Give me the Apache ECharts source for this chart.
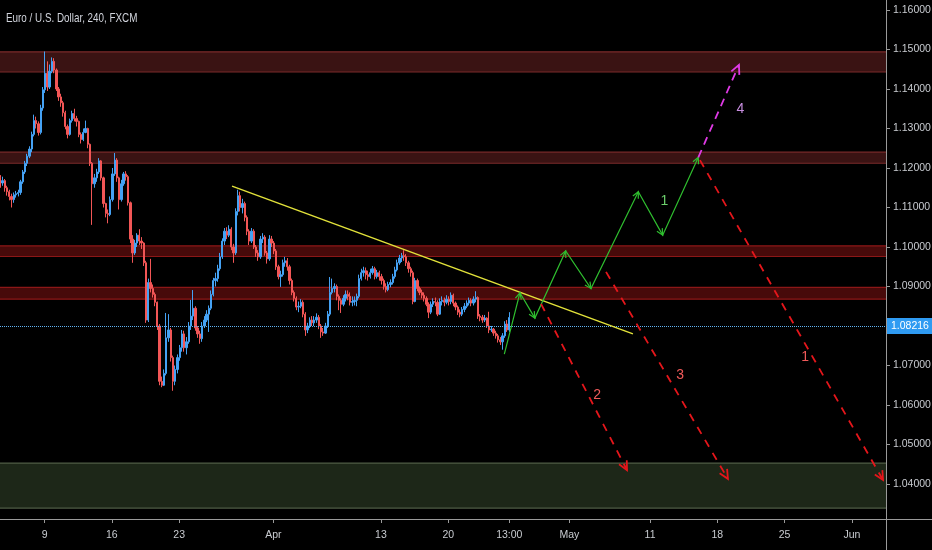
<!DOCTYPE html>
<html><head><meta charset="utf-8">
<script src="https://cdn.jsdelivr.net/npm/echarts@6/dist/echarts.min.js"></script>
<style>html,body{margin:0;padding:0;background:#000;}#c{width:932px;height:550px;}</style>
</head><body><div id="c"></div>
<script>
// ---------------- DATA ----------------
const chartTitle = 'Euro / U.S. Dollar, 240, FXCM';
// time unit: trading days since Mon 9 Mar (weekends removed, 5 days/week)
const lastBarDay = 34 + 13 / 24;   // Fri 24 Apr, 13:00
const barStepDays = 1 / 6;         // 4-hour bars
const firstOpen = 1.1175;
const closes = [
1.1162,1.1168,1.1150,1.1140,1.1128,1.1120,1.1132,1.1135,1.1138,1.1165,
1.1190,1.1212,1.1230,1.1248,1.1285,1.1320,1.1312,1.1290,1.1352,1.1398,
1.1440,1.1405,1.1445,1.1470,1.1448,1.1400,1.1380,1.1365,1.1340,1.1305,
1.1285,1.1320,1.1338,1.1325,1.1318,1.1285,1.1272,1.1290,1.1300,1.1260,
1.1212,1.1160,1.1175,1.1190,1.1218,1.1175,1.1110,1.1085,1.1082,1.1120,
1.1185,1.1220,1.1175,1.1120,1.1160,1.1185,1.1178,1.1112,1.1020,1.0985,
1.1010,1.1030,1.1015,1.1010,1.0960,1.0815,1.0910,1.0895,1.0880,1.0860,
1.0800,1.0660,1.0650,1.0680,1.0770,1.0790,1.0720,1.0660,1.0690,1.0720,
1.0745,1.0780,1.0745,1.0760,1.0800,1.0825,1.0845,1.0795,1.0780,1.0768,
1.0800,1.0815,1.0830,1.0845,1.0880,1.0915,1.0920,1.0945,1.0975,1.1015,
1.1040,1.1030,1.1045,1.1000,1.0985,1.1090,1.1130,1.1100,1.1110,1.1075,
1.1040,1.1015,1.1040,1.1000,1.0985,1.0975,1.1020,1.1025,1.0985,1.0970,
1.1020,1.1010,1.0990,1.0950,1.0925,1.0930,1.0960,1.0965,1.0950,1.0915,
1.0885,1.0870,1.0848,1.0850,1.0860,1.0830,1.0790,1.0800,1.0815,1.0808,
1.0815,1.0822,1.0800,1.0785,1.0782,1.0800,1.0830,1.0885,1.0895,1.0900,
1.0875,1.0865,1.0855,1.0870,1.0880,1.0875,1.0860,1.0862,1.0865,1.0875,
1.0920,1.0935,1.0940,1.0930,1.0925,1.0935,1.0945,1.0925,1.0935,1.0925,
1.0915,1.0900,1.0892,1.0905,1.0910,1.0925,1.0942,1.0960,1.0972,1.0978,
1.0975,1.0960,1.0945,1.0935,1.0862,1.0915,1.0895,1.0885,1.0878,1.0870,
1.0855,1.0835,1.0855,1.0862,1.0860,1.0830,1.0862,1.0865,1.0860,1.0868,
1.0862,1.0878,1.0858,1.0848,1.0835,1.0830,1.0842,1.0850,1.0858,1.0865,
1.0858,1.0868,1.0872,1.0825,1.0822,1.0815,1.0820,1.0800,1.0790,1.0792,
1.0782,1.0775,1.0765,1.0760,1.0775,1.0805,1.0790,1.08216
];
const highs = [
1.1182,1.1178,1.1172,1.1155,1.1145,1.1135,1.1138,1.1142,1.1145,1.1170,
1.1195,1.1218,1.1236,1.1255,1.1292,1.1335,1.1330,1.1318,1.1360,1.1405,
1.1495,1.1470,1.1462,1.1480,1.1478,1.1452,1.1405,1.1388,1.1370,1.1345,
1.1310,1.1325,1.1345,1.1350,1.1332,1.1320,1.1290,1.1300,1.1320,1.1302,
1.1262,1.1215,1.1185,1.1198,1.1225,1.1220,1.1178,1.1112,1.1095,1.1128,
1.1200,1.1238,1.1225,1.1178,1.1170,1.1190,1.1192,1.1182,1.1115,1.1030,
1.1018,1.1035,1.1045,1.1025,1.1012,1.0965,1.0920,1.0970,1.0905,1.0885,
1.0862,1.0805,1.0672,1.0690,1.0833,1.0830,1.0795,1.0725,1.0700,1.0728,
1.0752,1.0790,1.0788,1.0772,1.0810,1.0866,1.0891,1.0850,1.0800,1.0788,
1.0810,1.0825,1.0840,1.0852,1.0890,1.0922,1.0935,1.0955,1.0985,1.1022,
1.1048,1.1050,1.1055,1.1050,1.1008,1.1098,1.1145,1.1140,1.1122,1.1115,
1.1080,1.1045,1.1048,1.1045,1.1005,1.0992,1.1028,1.1035,1.1030,1.0990,
1.1030,1.1028,1.1015,1.0995,1.0955,1.0940,1.0968,1.0975,1.0972,1.0955,
1.0920,1.0890,1.0875,1.0862,1.0868,1.0865,1.0835,1.0808,1.0822,1.0825,
1.0825,1.0832,1.0828,1.0805,1.0795,1.0808,1.0838,1.0924,1.0920,1.0908,
1.0905,1.0880,1.0870,1.0878,1.0890,1.0890,1.0885,1.0875,1.0875,1.0882,
1.0930,1.0945,1.0950,1.0948,1.0940,1.0945,1.0952,1.0950,1.0942,1.0940,
1.0932,1.0920,1.0908,1.0912,1.0918,1.0932,1.0950,1.0968,1.0980,1.0985,
1.0992,1.0982,1.0965,1.0950,1.0940,1.0922,1.0920,1.0900,1.0892,1.0885,
1.0875,1.0860,1.0862,1.0870,1.0872,1.0865,1.0870,1.0875,1.0872,1.0878,
1.0875,1.0885,1.0882,1.0862,1.0852,1.0842,1.0848,1.0858,1.0865,1.0872,
1.0870,1.0875,1.0888,1.0875,1.0830,1.0828,1.0828,1.0822,1.0836,1.0800,
1.0795,1.0788,1.0780,1.0772,1.0782,1.0812,1.0815,1.0835
];
const lows = [
1.1150,1.1155,1.1140,1.1130,1.1118,1.1100,1.1112,1.1125,1.1128,1.1132,
1.1160,1.1185,1.1205,1.1225,1.1240,1.1280,1.1300,1.1282,1.1285,1.1345,
1.1390,1.1395,1.1400,1.1440,1.1440,1.1395,1.1370,1.1355,1.1330,1.1298,
1.1275,1.1282,1.1315,1.1318,1.1305,1.1278,1.1262,1.1268,1.1288,1.1250,
1.1205,1.1056,1.1150,1.1165,1.1185,1.1168,1.1100,1.1075,1.1060,1.1078,
1.1115,1.1180,1.1165,1.1095,1.1115,1.1155,1.1168,1.1105,1.1010,1.0960,
1.0980,1.1000,1.1005,1.0995,1.0952,1.0808,1.0810,1.0885,1.0872,1.0850,
1.0790,1.0650,1.0645,1.0648,1.0675,1.0760,1.0710,1.0636,1.0650,1.0680,
1.0712,1.0735,1.0735,1.0728,1.0755,1.0790,1.0815,1.0788,1.0770,1.0755,
1.0760,1.0795,1.0810,1.0785,1.0840,1.0875,1.0900,1.0912,1.0940,1.0970,
1.1005,1.1020,1.1025,1.0992,1.0960,1.0980,1.1080,1.1090,1.1085,1.1065,
1.1030,1.1005,1.1010,1.0995,1.0975,1.0965,1.0970,1.1010,1.0978,1.0958,
1.0965,1.1000,1.0982,1.0942,1.0918,1.0899,1.0925,1.0950,1.0940,1.0905,
1.0878,1.0862,1.0840,1.0835,1.0845,1.0822,1.0775,1.0782,1.0795,1.0800,
1.0800,1.0808,1.0792,1.0770,1.0775,1.0780,1.0795,1.0825,1.0880,1.0885,
1.0865,1.0840,1.0833,1.0850,1.0862,1.0865,1.0852,1.0850,1.0852,1.0850,
1.0870,1.0915,1.0925,1.0918,1.0915,1.0920,1.0930,1.0918,1.0920,1.0915,
1.0905,1.0892,1.0885,1.0888,1.0898,1.0905,1.0920,1.0938,1.0955,1.0962,
1.0965,1.0952,1.0935,1.0925,1.0855,1.0860,1.0888,1.0878,1.0870,1.0862,
1.0850,1.0820,1.0830,1.0848,1.0850,1.0825,1.0828,1.0852,1.0850,1.0855,
1.0852,1.0855,1.0850,1.0840,1.0828,1.0822,1.0825,1.0835,1.0845,1.0852,
1.0850,1.0852,1.0860,1.0818,1.0812,1.0808,1.0810,1.0795,1.0782,1.0785,
1.0775,1.0768,1.0758,1.0752,1.0740,1.0770,1.0785,1.0785
];
const xTickDays   = [0, 5, 10, 17, 25, 30, 34 + 13 / 24, 39, 45, 50, 55, 60];
const xTickLabels = ['9', '16', '23', 'Apr', '13', '20', '13:00', 'May', '11', '18', '25', 'Jun'];
const yTickValues = [1.04,1.05,1.06,1.07,1.08,1.09,1.10,1.11,1.12,1.13,1.14,1.15,1.16];
// horizontal zones [top, bottom]
const redZoneTops    = [1.1494, 1.1240, 1.1003, 1.0898];
const redZoneBottoms = [1.1443, 1.1212, 1.0976, 1.0868];
const greenZoneTop = 1.0453, greenZoneBottom = 1.0339;
// drawn lines [day, price]
const trendLine   = [[13.93, 1.1154], [43.73, 1.0780]];
const greenPath   = [[34.17,1.0729],[35.33,1.0884],[36.44,1.0820],[38.73,1.0990],[40.61,1.0895],[44.13,1.1140],[45.94,1.1030],[48.59,1.1227]];
const magentaPath = [[48.59, 1.1227], [51.61, 1.1461]];
const redPath1    = [[48.71, 1.1220], [62.32, 1.0410]];
const redPath2    = [[36.90, 1.0856], [43.29, 1.0435]];
const redPath3    = [[41.73, 1.0937], [50.79, 1.0413]];
const noteTexts  = ['1', '4', '2', '3', '1'];
const notePoints = [[46.06, 1.1117], [51.71, 1.1350], [41.06, 1.0625], [47.23, 1.0676], [56.52, 1.0722]];

// ---------------- VIEW ----------------
const xMin = -3.315, xMax = 62.539;
const yMin = 1.03114, yMax = 1.16253;
const FONT = "'Liberation Sans',sans-serif";
const axisColor = '#9a9a9a';
const lblColor = '#c8cbd0';

const N = closes.length;
const candles = closes.map((c, i) => {
  const t = lastBarDay - (N - 1 - i) * barStepDays;
  const o = i === 0 ? firstOpen : closes[i - 1];
  return [t, o, c, lows[i], highs[i]];
});
const lastClose = closes[N - 1];

const zones = redZoneTops.map((t, i) => ({ top: t, bottom: redZoneBottoms[i] }))
  .concat([{ top: greenZoneTop, bottom: greenZoneBottom }]);
const zoneStyles = [
  { fill: '#3a1313', border: '#7a2a2a' },
  { fill: '#3a1313', border: '#7a2a2a' },
  { fill: '#470a0a', border: '#8c1717' },
  { fill: '#470a0a', border: '#8c1717' },
  { fill: '#1d2718', border: '#4f5d45' }
];
const drawings = [
  { pts: trendLine,   color: '#e2e23a', width: 1.5, dash: null,  arrows: [], head: 0 },
  { pts: greenPath,   color: '#2fbf2f', width: 1.2, dash: null,  arrows: [1,2,3,4,5,6,7], head: 7 },
  { pts: magentaPath, color: '#e03ae6', width: 1.8, dash: [8, 6], arrows: [1], head: 10 },
  { pts: redPath1,    color: '#e5161b', width: 1.8, dash: [8, 7], arrows: [1], head: 10 },
  { pts: redPath2,    color: '#e5161b', width: 1.8, dash: [8, 7], arrows: [1], head: 10 },
  { pts: redPath3,    color: '#e5161b', width: 1.8, dash: [8, 7], arrows: [1], head: 10 }
];
const noteColors = ['#6ccf6c', '#c88ee0', '#f05a5a', '#f05a5a', '#f05a5a'];

function arrowHead(from, tip, len) {
  const a = Math.atan2(tip[1] - from[1], tip[0] - from[0]);
  const s = 0.45;
  return [
    [tip[0] - len * Math.cos(a - s), tip[1] - len * Math.sin(a - s)],
    tip,
    [tip[0] - len * Math.cos(a + s), tip[1] - len * Math.sin(a + s)]
  ];
}

const chart = echarts.init(document.getElementById('c'));
chart.setOption({
  backgroundColor: '#000000',
  animation: false,
  grid: { left: 0, top: 0, width: 886, height: 519, containLabel: false, outerBoundsMode: 'none' },
  xAxis: {
    type: 'value', min: xMin, max: xMax,
    splitLine: { show: false },
    axisLine: { show: true, onZero: false, lineStyle: { color: axisColor, width: 1 } },
    axisTick: { show: true, length: 4, customValues: xTickDays, lineStyle: { color: axisColor } },
    axisLabel: {
      customValues: xTickDays, margin: 11, color: lblColor, fontSize: 10.5, fontFamily: FONT,
      formatter: v => { const k = xTickDays.findIndex(t => Math.abs(t - v) < 1e-6); return k >= 0 ? xTickLabels[k] : ''; }
    }
  },
  yAxis: {
    type: 'value', position: 'right', min: yMin, max: yMax,
    splitLine: { show: false },
    axisLine: { show: true, onZero: false, lineStyle: { color: axisColor, width: 1 } },
    axisTick: { show: true, length: 4, customValues: yTickValues, lineStyle: { color: axisColor } },
    axisLabel: {
      customValues: yTickValues, margin: 7, color: lblColor, fontSize: 10.5, fontFamily: FONT,
      formatter: v => v.toFixed(5)
    }
  },
  graphic: [
    { type: 'text', x: 6, y: 18, scaleX: 0.73, z: 20,
      style: { text: chartTitle, fill: '#d1d4dc', fontSize: 13.5, fontFamily: FONT, verticalAlign: 'middle' } },
    { type: 'line', shape: { x1: 886, y1: 519.5, x2: 932, y2: 519.5 }, style: { stroke: axisColor, lineWidth: 1 }, z: 10 },
    { type: 'line', shape: { x1: 886.5, y1: 519, x2: 886.5, y2: 550 }, style: { stroke: axisColor, lineWidth: 1 }, z: 10 }
  ],
  series: [
    {
      type: 'custom', name: 'zones', z: 1, silent: true,
      data: zones.map((z, i) => [i]),
      renderItem: (params, api) => {
        const z = zones[params.dataIndex], st = zoneStyles[params.dataIndex];
        const p1 = api.coord([xMin, z.top]), p2 = api.coord([xMax, z.bottom]);
        return { type: 'group', children: [
          { type: 'rect', shape: { x: p1[0], y: p1[1], width: p2[0] - p1[0], height: p2[1] - p1[1] }, style: { fill: st.fill } },
          { type: 'line', shape: { x1: p1[0], y1: p1[1], x2: p2[0], y2: p1[1] }, style: { stroke: st.border, lineWidth: 1.2 } },
          { type: 'line', shape: { x1: p1[0], y1: p2[1], x2: p2[0], y2: p2[1] }, style: { stroke: st.border, lineWidth: 1.2 } }
        ]};
      }
    },
    {
      type: 'candlestick', name: 'EURUSD', z: 3,
      data: candles, encode: { x: 0, y: [1, 2, 3, 4] },
      barWidth: 1.8,
      itemStyle: { color: '#45a2f4', color0: '#f25656', borderColor: '#45a2f4', borderColor0: '#f25656', borderWidth: 1 },
      markLine: {
        silent: true, symbol: ['none', 'none'],
        lineStyle: { color: '#5fb2f2', type: 'dotted', width: 1 },
        label: {
          show: true, position: 'end', distance: 1, formatter: lastClose.toFixed(5),
          backgroundColor: '#2f9bf2', color: '#ffffff', padding: [3, 4, 2, 4], fontSize: 10.5, fontFamily: FONT
        },
        data: [{ yAxis: lastClose }]
      }
    },
    {
      type: 'custom', name: 'drawings', z: 5, silent: true,
      data: drawings.map((d, i) => [i]),
      renderItem: (params, api) => {
        const d = drawings[params.dataIndex];
        const px = d.pts.map(p => api.coord(p));
        const children = [{
          type: 'polyline', shape: { points: px },
          style: { stroke: d.color, lineWidth: d.width, fill: null, lineDash: d.dash || null }
        }];
        d.arrows.forEach(k => {
          children.push({
            type: 'polyline', shape: { points: arrowHead(px[k - 1], px[k], d.head) },
            style: { stroke: d.color, lineWidth: d.width, fill: null }
          });
        });
        return { type: 'group', children };
      }
    },
    {
      type: 'custom', name: 'notes', z: 6, silent: true,
      data: notePoints.map((p, i) => [i]),
      renderItem: (params, api) => {
        const i = params.dataIndex;
        const c = api.coord(notePoints[i]);
        return { type: 'text', style: {
          text: noteTexts[i], x: c[0], y: c[1], fill: noteColors[i],
          fontSize: 14, fontFamily: FONT, align: 'center', verticalAlign: 'middle'
        }};
      }
    }
  ]
});
</script></body></html>
